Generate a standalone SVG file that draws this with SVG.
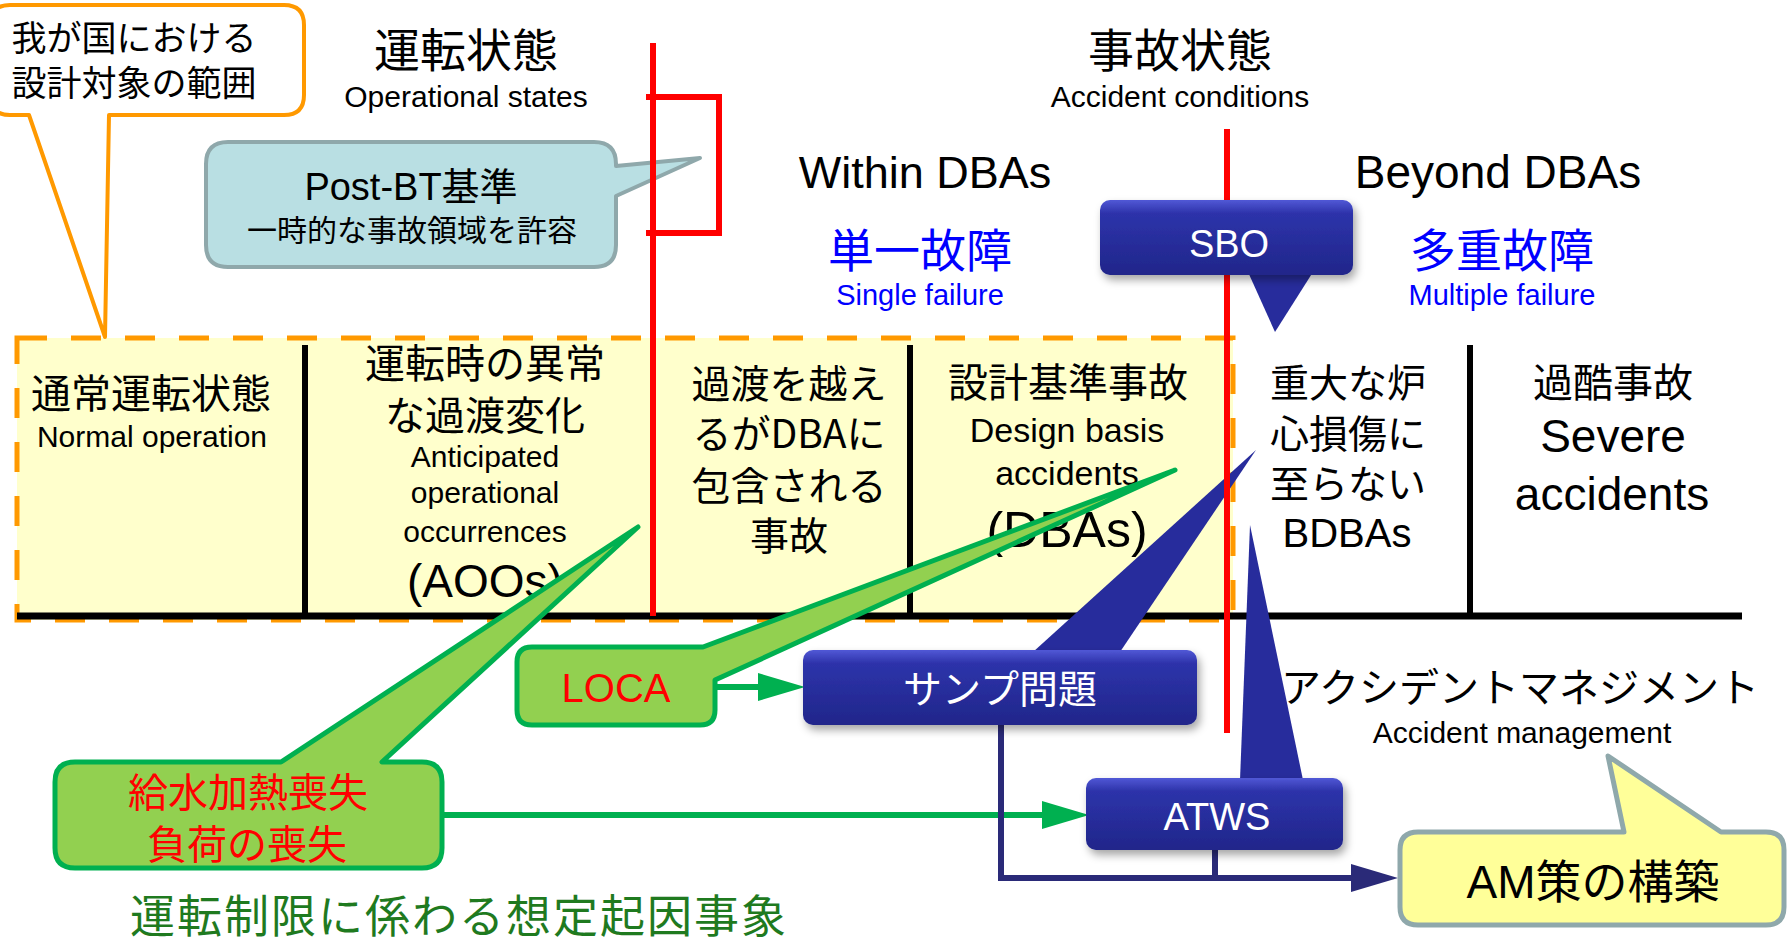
<svg xmlns="http://www.w3.org/2000/svg" width="1787" height="945" viewBox="0 0 1787 945">
<style>
text{font-family:"Liberation Sans","Noto Sans CJK JP",sans-serif;fill:#000;text-anchor:middle}
.j{font-family:"Noto Sans CJK JP","Liberation Sans",sans-serif}
.blue{fill:#0000FF}
.red{fill:#FF0000}
.w{fill:#FFFFFF}
.sep{stroke:#000;stroke-width:6;fill:none}
.rl{stroke:#FF0000;stroke-width:6;fill:none}
.bx{fill:url(#bg);filter:url(#sh)}
.bt{fill:#272C9C}
.gc{fill:#92D050;stroke:#00B050;stroke-width:5;stroke-linejoin:round}
.nv{stroke:#2A2A78;stroke-width:6;fill:none}
.gl{stroke:#00B050;stroke-width:6;fill:none}
.gh{fill:#00B050}
</style>
<defs>
<linearGradient id="bg" x1="0" y1="0" x2="0" y2="1">
<stop offset="0" stop-color="#5158D6"/>
<stop offset="0.18" stop-color="#2D33AA"/>
<stop offset="1" stop-color="#20268A"/>
</linearGradient>
<filter id="sh" x="-10%" y="-20%" width="130%" height="150%">
<feDropShadow dx="3" dy="5" stdDeviation="4" flood-color="#000" flood-opacity="0.35"/>
</filter>
</defs>

<!-- region frame -->
<g id="frame">
<rect x="17" y="338" width="1216" height="282" fill="#FFFFCC" stroke="#FF9900" stroke-width="5" stroke-dasharray="30 24"/>
<line x1="17" y1="616" x2="1742" y2="616" stroke="#000" stroke-width="7"/>
<line class="sep" x1="305" y1="345" x2="305" y2="616"/>
<line class="sep" x1="910" y1="345" x2="910" y2="616"/>
<line class="sep" x1="1470" y1="345" x2="1470" y2="616"/>
</g>

<!-- headings -->
<g id="headings">
<text class="j" x="466" y="67" font-size="46">運転状態</text>
<text x="466" y="107" font-size="30">Operational states</text>
<text class="j" x="1180" y="67" font-size="46">事故状態</text>
<text x="1180" y="107" font-size="30">Accident conditions</text>
<text x="925" y="188" font-size="45">Within DBAs</text>
<text x="1498" y="188" font-size="46">Beyond DBAs</text>
<text class="j blue" x="920" y="267" font-size="46">単一故障</text>
<text class="blue" x="920" y="305" font-size="29">Single failure</text>
<text class="j blue" x="1502" y="267" font-size="46">多重故障</text>
<text class="blue" x="1502" y="305" font-size="29">Multiple failure</text>
</g>

<!-- cells -->
<g id="cell-normal">
<text class="j" x="151" y="408" font-size="40">通常運転状態</text>
<text x="152" y="447" font-size="30">Normal operation</text>
</g>
<g id="cell-aoo">
<text class="j" x="485" y="378" font-size="40">運転時の異常</text>
<text class="j" x="485" y="430" font-size="40">な過渡変化</text>
<text x="485" y="467" font-size="30">Anticipated</text>
<text x="485" y="503" font-size="30">operational</text>
<text x="485" y="542" font-size="30">occurrences</text>
<text x="485" y="597" font-size="46">(AOOs)</text>
</g>
<g id="cell-beyond-transient">
<text class="j" x="789" y="398" font-size="39">過渡を越え</text>
<text class="j" x="789" y="448" font-size="39">るがDBAに</text>
<text class="j" x="789" y="500" font-size="39">包含される</text>
<text class="j" x="789" y="550" font-size="39">事故</text>
</g>
<g id="cell-dba">
<text class="j" x="1068" y="397" font-size="40">設計基準事故</text>
<text x="1067" y="442" font-size="34">Design basis</text>
<text x="1067" y="485" font-size="34">accidents</text>
<text x="1067" y="547" font-size="50">(DBAs)</text>
</g>
<g id="cell-bdba">
<text class="j" x="1348" y="397" font-size="39">重大な炉</text>
<text class="j" x="1348" y="448" font-size="39">心損傷に</text>
<text class="j" x="1348" y="498" font-size="39">至らない</text>
<text x="1347" y="547" font-size="40">BDBAs</text>
</g>
<g id="cell-severe">
<text class="j" x="1613" y="397" font-size="40">過酷事故</text>
<text x="1613" y="452" font-size="46">Severe</text>
<text x="1612" y="510" font-size="46">accidents</text>
</g>

<!-- design scope callout -->
<g id="scope-callout">
<path d="M-10,25 Q-10,5 10,5 L284,5 Q304,5 304,25 L304,95 Q304,115 284,115 L109,115 L105,337 L29,115 L10,115 Q-10,115 -10,95 Z" fill="#FFFFFF" stroke="#FF9900" stroke-width="4" stroke-linejoin="round"/>
<text class="j" x="134" y="51" font-size="35">我が国における</text>
<text class="j" x="134" y="96" font-size="35">設計対象の範囲</text>
</g>

<!-- Post-BT callout -->
<g id="postbt-callout">
<path d="M228,142 L594,142 Q616,142 616,164 L616,166 L700,158 L616,196 L616,245 Q616,267 594,267 L228,267 Q206,267 206,245 L206,164 Q206,142 228,142 Z" fill="#B9DFE3" stroke="#8FA8AB" stroke-width="4" stroke-linejoin="round"/>
<text x="411" y="200" font-size="38">Post-BT基準</text>
<text class="j" x="412" y="241" font-size="30">一時的な事故領域を許容</text>
</g>

<!-- sump wedge (under red lines) -->
<g id="sump-tail">
<polygon class="bt" points="1033,652 1120,652 1256,450"/>
</g>

<!-- red boundary lines -->
<g id="boundaries">
<line class="rl" x1="653" y1="43" x2="653" y2="616"/>
<path class="rl" d="M646,97 L719,97 L719,233 L646,233"/>
<line class="rl" x1="1227" y1="129" x2="1227" y2="733"/>
</g>

<!-- connectors -->
<g id="connectors">
<line class="gl" x1="715" y1="687" x2="760" y2="687"/>
<polygon class="gh" points="758,673 805,687 758,701"/>
<line class="gl" x1="442" y1="815" x2="1044" y2="815"/>
<polygon class="gh" points="1042,801 1089,815 1042,829"/>
<path class="nv" d="M1001,725 L1001,878 L1356,878"/>
<line class="nv" x1="1215" y1="850" x2="1215" y2="878"/>
<polygon points="1351,864 1398,878 1351,892" fill="#2A2A78"/>
</g>

<!-- initiating event callouts -->
<g id="feedwater-callout">
<path class="gc" d="M75,762 L281,762 L638,527 L382,762 L422,762 Q442,762 442,782 L442,848 Q442,868 422,868 L75,868 Q55,868 55,848 L55,782 Q55,762 75,762 Z"/>
<text class="j red" x="248" y="807" font-size="40">給水加熱喪失</text>
<text class="j red" x="247" y="859" font-size="40">負荷の喪失</text>
</g>
<g id="loca-callout">
<path class="gc" d="M532,647 L703,647 L1175,470 L715,680 L715,710 Q715,725 700,725 L532,725 Q517,725 517,710 L517,662 Q517,647 532,647 Z"/>
<text class="red" x="616" y="702" font-size="40">LOCA</text>
</g>

<!-- blue boxes -->
<g id="sump">
<rect class="bx" x="803" y="650" width="394" height="75" rx="10"/>
<text class="j w" x="1000" y="703" font-size="39">サンプ問題</text>
</g>
<g id="atws">
<polygon class="bt" points="1240,780 1303,780 1250,525"/>
<rect class="bx" x="1086" y="778" width="257" height="72" rx="10"/>
<text class="w" x="1217" y="830" font-size="38">ATWS</text>
</g>
<g id="sbo">
<polygon class="bt" points="1248,272 1313,272 1275,332"/>
<rect class="bx" x="1100" y="200" width="253" height="75" rx="10"/>
<text class="w" x="1229" y="257" font-size="38">SBO</text>
</g>

<!-- accident management -->
<g id="am-label">
<text class="j" x="1520" y="702" font-size="40">アクシデントマネジメント</text>
<text x="1522" y="743" font-size="30">Accident management</text>
</g>
<g id="am-callout">
<path d="M1418,832 L1624,832 L1608,756 L1721,832 L1766,832 Q1784,832 1784,850 L1784,907 Q1784,925 1766,925 L1418,925 Q1400,925 1400,907 L1400,850 Q1400,832 1418,832 Z" fill="#FFFF99" stroke="#8FA8AB" stroke-width="5" stroke-linejoin="round"/>
<text x="1593" y="898" font-size="46">AM策の構築</text>
</g>

<g id="footer">
<text class="j" x="459" y="933" font-size="45" letter-spacing="2" style="fill:#1F7A1F">運転制限に係わる想定起因事象</text>
</g>
</svg>
